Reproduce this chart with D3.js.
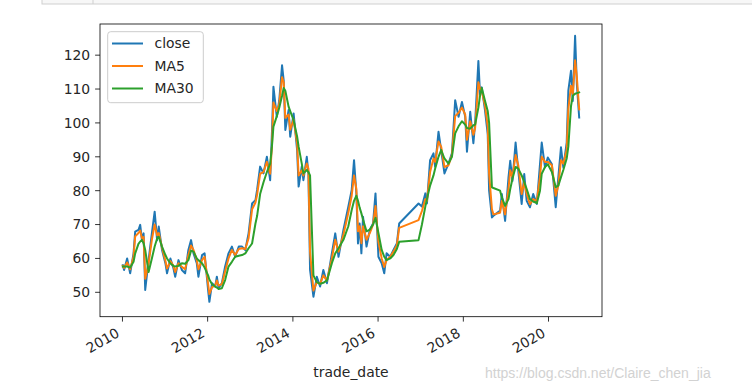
<!DOCTYPE html>
<html>
<head>
<meta charset="utf-8">
<script src="https://cdn.jsdelivr.net/npm/d3@7"></script>
<style>
  body { margin: 0; background: #fff; }
  svg { display: block; font-family: "DejaVu Sans", sans-serif; }
</style>
</head>
<body>
<div id="chart"></div>
<script>
// Stock close price with 5 / 30 period moving averages (pandas .plot look)

// ── Data ────────────────────────────────────────────────────────────────────
const dates = [
  "2010-01-04","2010-01-15","2010-02-10","2010-03-08","2010-04-06","2010-04-20","2010-05-18","2010-06-02","2010-06-17","2010-07-01",
  "2010-07-15","2010-08-13","2010-09-10","2010-10-04","2010-10-25","2010-11-08","2010-12-06","2011-01-04","2011-01-18","2011-02-16",
  "2011-03-14","2011-03-29","2011-04-26","2011-05-25","2011-06-22","2011-07-20","2011-08-12","2011-09-02","2011-09-30","2011-10-14",
  "2011-11-14","2011-12-06","2012-01-05","2012-01-16","2012-02-08","2012-03-06","2012-03-20","2012-04-04","2012-05-02","2012-05-30",
  "2012-06-28","2012-07-27","2012-08-24","2012-09-24","2012-10-22","2012-11-19","2012-12-17","2013-01-16","2013-02-14","2013-02-28",
  "2013-03-26","2013-04-24","2013-05-23","2013-06-20","2013-07-05","2013-07-18","2013-08-16","2013-09-06","2013-09-30","2013-10-14",
  "2013-10-28","2013-11-25","2013-12-09","2014-01-07","2014-02-06","2014-02-19","2014-03-18","2014-04-01","2014-04-30","2014-05-14",
  "2014-05-28","2014-06-26","2014-07-25","2014-08-22","2014-09-19","2014-10-20","2014-12-01","2014-12-30","2015-01-27","2015-03-10",
  "2015-04-21","2015-05-20","2015-06-09","2015-06-29","2015-07-13","2015-07-27","2015-08-11","2015-08-25","2015-09-24","2015-10-22",
  "2015-11-19","2015-12-10","2016-01-04","2016-02-01","2016-02-23","2016-03-14","2016-04-14","2016-05-12","2016-06-10","2016-06-30",
  "2016-12-13","2017-01-11","2017-02-09","2017-02-23","2017-03-22","2017-04-20","2017-05-04","2017-06-02","2017-06-25","2017-07-23",
  "2017-08-27","2017-09-25","2017-10-23","2017-11-21","2017-12-20","2018-01-17","2018-02-01","2018-03-01","2018-03-28","2018-04-12",
  "2018-05-10","2018-05-24","2018-06-08","2018-07-06","2018-07-29","2018-08-10","2018-09-03","2018-09-16","2018-11-12","2018-11-27",
  "2018-12-25","2019-01-23","2019-02-07","2019-02-26","2019-03-25","2019-04-17","2019-05-16","2019-06-07","2019-06-28","2019-07-26",
  "2019-08-23","2019-09-23","2019-10-20","2019-11-04","2019-12-02","2019-12-26","2020-01-30","2020-03-03","2020-03-25","2020-04-17",
  "2020-05-07","2020-06-05","2020-06-19","2020-07-12","2020-07-27","2020-08-16","2020-08-31","2020-09-20"
];

const close = [
  58.0,56.6,60.0,55.6,61.5,67.9,68.4,69.9,65.4,67.4,
  50.7,59.5,67.4,73.8,65.4,69.4,62.5,58.6,55.6,60.0,
  57.1,54.6,59.5,56.6,55.6,62.5,65.4,61.5,58.6,54.6,
  61.0,61.5,50.7,47.2,52.7,51.7,54.6,51.2,52.7,57.6,
  61.5,63.5,60.5,63.5,63.5,62.5,67.4,76.2,77.2,80.2,
  87.1,85.1,90.0,83.1,96.9,110.7,101.8,106.7,117.0,112.6,
  97.9,103.8,95.9,102.8,92.0,81.2,87.1,83.1,90.0,85.1,
  56.6,48.7,54.6,51.7,56.6,52.7,61.5,67.4,60.5,68.4,
  75.3,80.2,89.0,79.2,64.4,70.3,61.5,72.3,63.5,68.4,
  70.3,79.2,60.5,58.6,55.6,61.5,60.5,62.5,64.4,70.3,
  76.2,75.3,79.2,76.2,89.0,91.0,87.1,97.4,92.0,85.1,
  88.0,91.0,106.7,101.8,106.2,101.8,91.5,103.3,94.0,99.8,
  118.3,108.5,110.5,103.6,96.7,80.0,72.1,72.6,74.1,79.0,
  71.1,83.9,88.8,82.9,94.2,85.9,76.1,84.9,77.0,75.1,
  79.0,76.1,87.8,94.2,86.9,89.8,87.8,75.1,83.9,92.8,
  86.9,94.2,109.5,115.4,106.5,125.7,111.4,101.6
];

const ma5 = [
  57.8,57.2,58.8,56.8,60.5,66.5,67.5,68.2,66.0,66.3,
  54.0,58.5,65.5,70.0,66.8,67.5,63.2,59.3,57.0,59.2,
  57.8,56.0,58.6,57.5,56.8,61.0,63.8,62.5,59.5,56.8,
  59.5,60.5,52.5,49.5,51.5,52.0,53.5,52.0,52.4,56.2,
  60.0,62.5,61.0,62.8,63.0,62.8,66.0,74.5,76.5,78.8,
  85.0,85.5,88.5,85.0,93.0,106.0,103.5,105.5,113.5,112.0,
  101.5,102.5,98.0,101.0,94.0,84.5,86.0,84.5,88.0,86.5,
  62.0,50.5,53.0,52.5,55.0,53.5,60.0,65.5,62.0,67.0,
  73.5,78.5,84.5,80.5,68.0,69.5,64.5,69.5,65.5,67.5,
  70.0,75.5,65.0,60.0,57.5,59.5,60.5,62.0,63.8,69.0,
  71.3,74.0,77.5,77.0,85.5,89.5,88.5,94.5,93.0,87.0,
  87.5,90.5,102.0,103.0,104.5,102.5,95.0,100.5,96.5,98.5,
  112.0,110.0,109.5,105.0,99.0,85.0,74.5,73.0,73.5,77.0,
  73.0,80.5,86.0,84.0,90.5,87.5,79.0,82.5,79.0,76.0,
  77.5,77.0,84.0,90.0,88.5,88.5,87.5,78.5,81.5,89.0,
  88.0,92.0,104.0,111.0,108.5,118.5,113.5,104.0
];

const ma30 = [
  57.6,57.6,57.6,57.3,59.0,61.5,64.3,65.0,65.4,64.5,
  62.5,56.0,60.0,63.5,65.9,66.4,63.5,61.0,60.0,58.5,
  57.8,57.6,57.8,58.6,58.4,59.5,62.3,62.0,60.0,59.5,
  58.6,57.3,55.0,53.8,52.4,51.7,51.4,51.0,51.2,53.6,
  57.6,59.0,60.5,60.8,61.0,61.5,63.0,64.4,70.3,72.5,
  79.0,82.5,85.5,88.0,93.0,98.9,102.0,104.5,108.0,110.3,
  109.5,104.8,103.5,100.8,96.0,93.0,88.0,85.1,86.1,85.5,
  84.5,55.0,53.0,52.5,52.8,53.5,58.6,61.5,63.0,65.5,
  69.5,74.3,77.0,78.5,77.0,75.0,73.3,71.5,68.0,68.5,
  70.0,72.0,67.5,62.5,60.5,59.5,60.0,61.0,62.8,64.9,
  65.4,70.0,75.3,77.5,81.5,84.5,86.5,90.0,92.0,89.5,
  88.0,90.0,96.9,99.0,100.5,99.5,98.5,98.3,99.3,99.5,
  104.5,108.0,110.3,106.5,103.5,100.0,81.0,80.8,80.0,78.0,
  75.5,77.5,80.5,83.5,87.0,86.5,84.5,82.5,80.5,77.5,
  76.8,76.3,80.0,85.0,87.0,87.8,85.5,81.0,81.5,84.0,
  86.1,89.5,93.0,105.0,108.0,108.6,108.8,109.0
];

const seriesNames = ["close", "MA5", "MA30"];
const yTicks      = [50, 60, 70, 80, 90, 100, 110, 120];
const xTickYears  = [2010, 2012, 2014, 2016, 2018, 2020];
const yLimits     = [42.8, 129.2];
const xLabel      = "trade_date";
const watermark   = "https://blog.csdn.net/Claire_chen_jia";

// ── Layout / style ──────────────────────────────────────────────────────────
const width = 752, height = 391;
const box = { left: 100, right: 602, top: 24, bottom: 316.7 };
const colors = ["#1f77b4", "#ff7f0e", "#2ca02c"];
const fontSize = 13.9;
const tickLen = 4.9, tickPad = 4.9;

const parseDate = d3.timeParse("%Y-%m-%d");
const series = [close, ma5, ma30].map(vals =>
  dates.map((d, i) => ({ date: parseDate(d), value: vals[i] }))
);

const svg = d3.select("#chart").append("svg")
  .attr("width", width)
  .attr("height", height);

// notebook cell frame at the very top
svg.append("rect")
  .attr("x", 42).attr("y", -2)
  .attr("width", 720).attr("height", 6)
  .attr("fill", "#f7f7f7").attr("stroke", "#cfcfcf");
svg.append("line")
  .attr("x1", 93).attr("x2", 93).attr("y1", 0).attr("y2", 4)
  .attr("stroke", "#cfcfcf");

// ── Scales (matplotlib 5% margin on x) ──────────────────────────────────────
const ext = d3.extent(series[0], d => d.date);
const pad = (ext[1] - ext[0]) * 0.05;
const x = d3.scaleTime()
  .domain([new Date(+ext[0] - pad), new Date(+ext[1] + pad)])
  .range([box.left, box.right]);
const y = d3.scaleLinear()
  .domain(yLimits)
  .range([box.bottom, box.top]);

// ── Lines ───────────────────────────────────────────────────────────────────
svg.append("clipPath").attr("id", "axclip")
  .append("rect")
  .attr("x", box.left).attr("y", box.top)
  .attr("width", box.right - box.left).attr("height", box.bottom - box.top);

const line = d3.line()
  .x(d => x(d.date))
  .y(d => y(d.value));

series.forEach((s, i) => {
  svg.append("path")
    .datum(s)
    .attr("clip-path", "url(#axclip)")
    .attr("fill", "none")
    .attr("stroke", colors[i])
    .attr("stroke-width", 2)
    .attr("stroke-linejoin", "round")
    .attr("stroke-linecap", "square")
    .attr("d", line);
});

// ── Axes frame ──────────────────────────────────────────────────────────────
svg.append("rect")
  .attr("x", box.left).attr("y", box.top)
  .attr("width", box.right - box.left).attr("height", box.bottom - box.top)
  .attr("fill", "none").attr("stroke", "#000").attr("stroke-width", 0.8);

// y ticks
const yAxis = svg.append("g");
yTicks.forEach(t => {
  yAxis.append("line")
    .attr("x1", box.left - tickLen).attr("x2", box.left)
    .attr("y1", y(t)).attr("y2", y(t))
    .attr("stroke", "#000").attr("stroke-width", 0.8);
  yAxis.append("text")
    .attr("x", box.left - tickLen - tickPad)
    .attr("y", y(t))
    .attr("dy", "0.35em")
    .attr("text-anchor", "end")
    .style("font-size", fontSize + "px")
    .attr("fill", "#262626")
    .text(t);
});

// x ticks, rotated like fig.autofmt_xdate()
const xAxis = svg.append("g");
xTickYears.forEach(yr => {
  const tx = x(new Date(yr, 0, 1));
  xAxis.append("line")
    .attr("x1", tx).attr("x2", tx)
    .attr("y1", box.bottom).attr("y2", box.bottom + tickLen)
    .attr("stroke", "#000").attr("stroke-width", 0.8);
  xAxis.append("text")
    .attr("transform", `translate(${tx - 2}, ${box.bottom + tickLen + tickPad + 9.3}) rotate(-30)`)
    .attr("text-anchor", "end")
    .style("font-size", fontSize + "px")
    .attr("fill", "#262626")
    .text(yr);
});

svg.append("text")
  .attr("x", (box.left + box.right) / 2)
  .attr("y", 377)
  .attr("text-anchor", "middle")
  .style("font-size", fontSize + "px")
  .attr("fill", "#262626")
  .text(xLabel);

// ── Legend ──────────────────────────────────────────────────────────────────
const legend = svg.append("g");
legend.append("rect")
  .attr("x", 107.7).attr("y", 31.7)
  .attr("width", 95.6).attr("height", 71)
  .attr("rx", 3)
  .attr("fill", "#fff").attr("fill-opacity", 0.8)
  .attr("stroke", "#cccccc").attr("stroke-width", 1);

seriesNames.forEach((name, i) => {
  const ry = 43.5 + i * 22.5;
  legend.append("line")
    .attr("x1", 112).attr("x2", 143)
    .attr("y1", ry).attr("y2", ry)
    .attr("stroke", colors[i]).attr("stroke-width", 2);
  legend.append("text")
    .attr("x", 154.5).attr("y", ry)
    .attr("dy", "0.35em")
    .style("font-size", fontSize + "px")
    .attr("fill", "#262626")
    .text(name);
});

// ── Watermark ───────────────────────────────────────────────────────────────
svg.append("text")
  .attr("x", 485).attr("y", 378)
  .style("font-family", "'Liberation Sans', Arial, sans-serif")
  .style("font-size", "14px")
  .attr("fill", "#d2d2d2")
  .text(watermark);
</script>
</body>
</html>
